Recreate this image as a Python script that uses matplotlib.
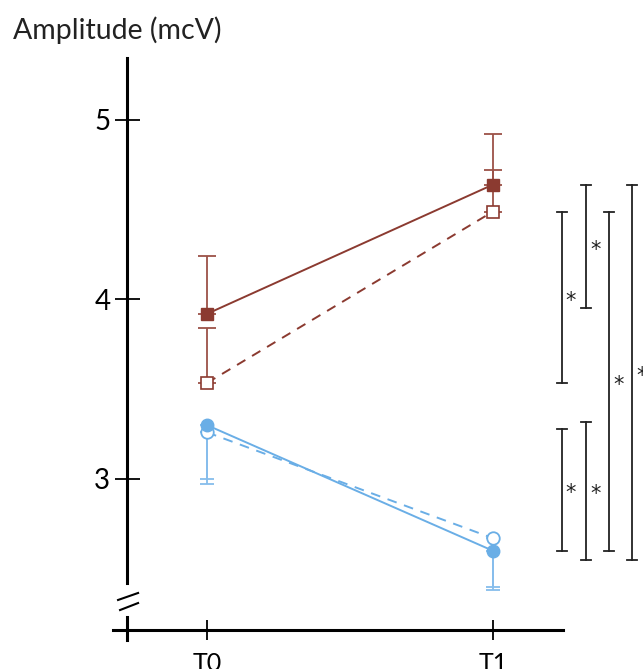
import matplotlib
matplotlib.use("Agg")
import matplotlib.pyplot as plt

plt.rcParams['font.family'] = ['Lato', 'DejaVu Sans']

# time points
times = ['T0', 'T1']
xpos = [0, 1]

# amplitude means and one-sided error (mcV)
red_filled = [3.92, 4.64]
red_filled_err = [0.32, 0.28]
red_open = [3.535, 4.49]
red_open_err = [0.305, 0.23]
blue_filled = [3.30, 2.60]
blue_filled_err = [0.33, 0.22]
blue_open = [3.26, 2.67]
blue_open_err = [0.26, 0.27]

# significance brackets: (bottom, top, label)
brackets = [
    (3.535, 4.49, '*'),
    (3.95, 4.64, '*'),
    (2.60, 4.49, '*'),
    (2.55, 4.64, '*'),
    (2.60, 3.28, '*'),
    (2.55, 3.32, '*'),
]
bracket_x = [1.241, 1.325, 1.406, 1.486, 1.241, 1.325]

red = '#8b3a30'
red_light = '#9c5248'
blue = '#6aaee6'
blue_light = '#86bdec'
dark = '#222222'

fig = plt.figure(figsize=(6.43, 6.69), dpi=100)
ax = fig.add_axes([0, 0, 1, 1])
ax.set_xlim(-0.7238, 1.5245)
ax.set_ylim(1.9415, 5.6685)
ax.patch.set_alpha(0)

# red series (error bars upward)
ax.errorbar(xpos, red_filled, yerr=[[0, 0], red_filled_err], fmt='none',
            ecolor=red_light, elinewidth=1.3, capsize=6.5, capthick=1.3)
ax.errorbar(xpos, red_open, yerr=[[0, 0], red_open_err], fmt='none',
            ecolor=red_light, elinewidth=1.3, capsize=6.5, capthick=1.3)
ax.plot(xpos, red_filled, '-', color=red, lw=1.4, marker='s', ms=8,
        mfc=red, mec=red)
ax.plot(xpos, red_open, color=red, lw=1.4, ls=(0, (5, 4)), marker='s', ms=8,
        mfc='white', mec=red, mew=1.2)

# blue series (error bars downward)
ax.errorbar(xpos, blue_filled, yerr=[blue_filled_err, [0, 0]], fmt='none',
            ecolor=blue_light, elinewidth=1.3, capsize=5, capthick=1.3)
ax.errorbar(xpos, blue_open, yerr=[blue_open_err, [0, 0]], fmt='none',
            ecolor=blue_light, elinewidth=1.3, capsize=5, capthick=1.3)
ax.plot(xpos, blue_open, color=blue, lw=1.4, ls=(0, (5, 4)), marker='o', ms=9,
        mfc='white', mec=blue, mew=1.3)
ax.plot(xpos, blue_filled, '-', color=blue, lw=1.4, marker='o', ms=9,
        mfc=blue, mec=blue)

# significance brackets
for (lo, hi, lab), bx in zip(brackets, bracket_x):
    ax.plot([bx, bx], [lo, hi], color=dark, lw=1.3, clip_on=False)
    for yy in (lo, hi):
        ax.plot([bx - 0.018, bx + 0.018], [yy, yy], color=dark, lw=1.3)
    ax.text(bx + 0.032, (lo + hi) / 2 - 0.02, lab, fontsize=15, color=dark,
            ha='center', va='center', family='DejaVu Sans')

# axes
for s in ['top', 'right']:
    ax.spines[s].set_visible(False)
ax.spines['left'].set_position(('data', -0.2797))
ax.spines['left'].set_bounds(2.42, 5.345)
ax.spines['left'].set_linewidth(2.2)
ax.spines['bottom'].set_position(('data', 2.1588))
ax.spines['bottom'].set_bounds(-0.3287, 1.2448)
ax.spines['bottom'].set_linewidth(2.2)

ax.set_yticks([3, 4, 5])
ax.set_yticklabels(['3', '4', '5'], fontsize=20)
ax.tick_params(axis='y', direction='inout', length=18, width=1.3, pad=3)
ax.set_xticks(xpos)
ax.set_xticklabels(times, fontsize=18)
ax.tick_params(axis='x', direction='inout', length=14, width=1.3, pad=9)

# axis break
ax.plot([-0.2797, -0.2797], [2.103, 2.231], color='black', lw=2.2)
ax.plot([-0.311, -0.241], [2.326, 2.365], color='black', lw=1.5)
ax.plot([-0.304, -0.241], [2.270, 2.309], color='black', lw=1.5)

fig.text(0.02, 1 - 30 / 669, 'Amplitude (mcV)', fontsize=20.5, va='center',
         ha='left', color='#222222')

fig.savefig('out.png', dpi=100)
